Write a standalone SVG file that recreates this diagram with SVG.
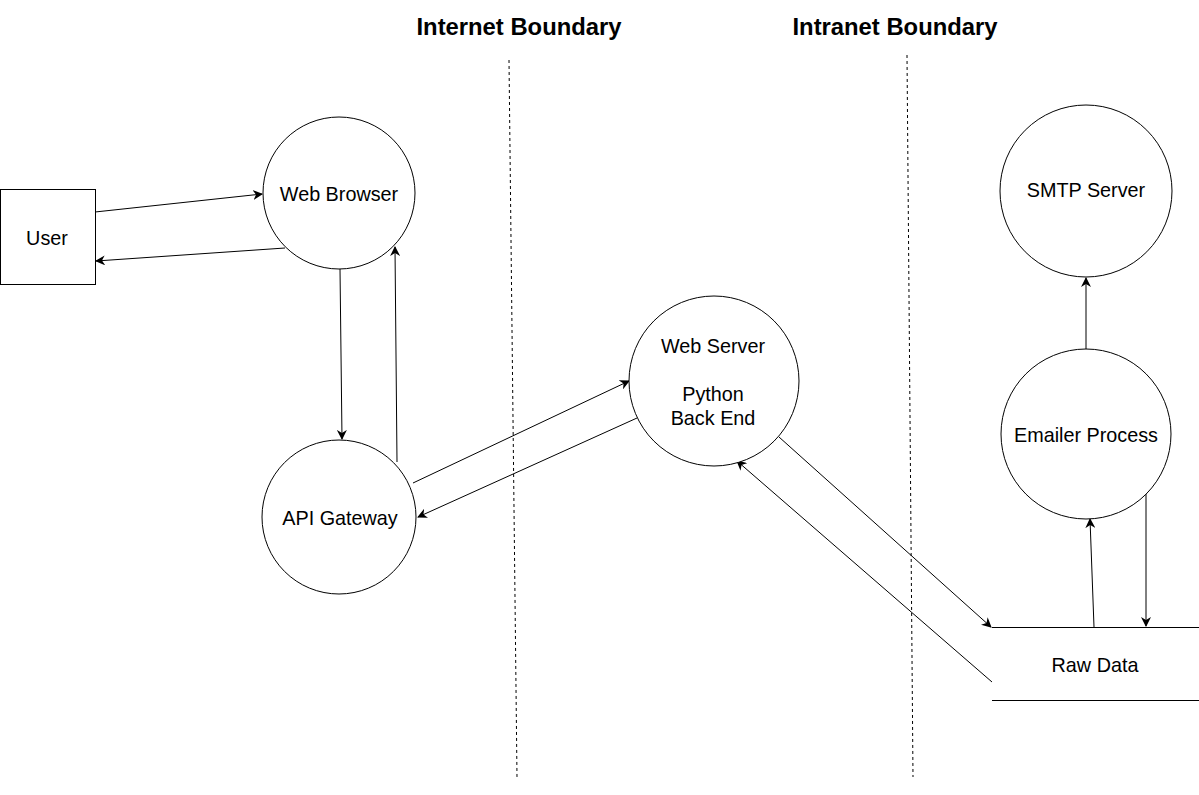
<svg xmlns="http://www.w3.org/2000/svg" width="1199" height="795" viewBox="0 0 1199 795">
<defs>
<marker id="arr" viewBox="0 0 10 10" refX="9" refY="5" markerWidth="10" markerHeight="10" markerUnits="userSpaceOnUse" orient="auto">
<path d="M0,0 L10,5 L0,10 L3,5 Z" fill="#000"/>
</marker>
</defs>
<style>
.shape{fill:#fff;stroke:#000;stroke-width:1}
.lbl{font-family:"Liberation Sans",Arial,sans-serif;font-size:19.8px;fill:#000;text-anchor:middle}
.title{font-family:"Liberation Sans",Arial,sans-serif;font-size:24px;font-weight:bold;fill:#000;text-anchor:middle}
.bound{stroke:#000;stroke-width:1;stroke-dasharray:3,3;fill:none}
.conn{stroke:#000;stroke-width:1;fill:none;marker-end:url(#arr)}
</style>
<rect width="1199" height="795" fill="#fff"/>
<g id="boundaries">
<line class="bound" x1="509" y1="60" x2="517" y2="777"/>
<line class="bound" x1="907" y1="55" x2="913" y2="777"/>
<text class="title" x="519" y="35" textLength="205" lengthAdjust="spacingAndGlyphs">Internet Boundary</text>
<text class="title" x="895" y="35" textLength="205" lengthAdjust="spacingAndGlyphs">Intranet Boundary</text>
</g>
<g id="connectors">
<line class="conn" x1="95" y1="212" x2="262" y2="194"/>
<line class="conn" x1="285" y1="248" x2="96" y2="261"/>
<line class="conn" x1="340" y1="269" x2="342" y2="439"/>
<line class="conn" x1="397" y1="462" x2="395" y2="247"/>
<line class="conn" x1="413" y1="483" x2="629" y2="381"/>
<line class="conn" x1="637" y1="418" x2="418" y2="517"/>
<line class="conn" x1="779" y1="437" x2="991" y2="627"/>
<line class="conn" x1="992" y1="682" x2="737" y2="461"/>
<line class="conn" x1="1094" y1="627" x2="1090" y2="519"/>
<line class="conn" x1="1146" y1="493" x2="1146" y2="626"/>
<line class="conn" x1="1086" y1="349" x2="1086" y2="278"/>
</g>
<g id="user">
<rect class="shape" x="0.5" y="189.5" width="95" height="95"/>
<text class="lbl" x="47" y="245">User</text>
</g>
<g id="web-browser">
<circle class="shape" cx="339" cy="193" r="76"/>
<text class="lbl" x="339" y="201">Web Browser</text>
</g>
<g id="api-gateway">
<circle class="shape" cx="339" cy="517" r="77"/>
<text class="lbl" x="340" y="525">API Gateway</text>
</g>
<g id="web-server">
<circle class="shape" cx="714" cy="381" r="85"/>
<text class="lbl" x="713" y="353">Web Server</text>
<text class="lbl" x="713" y="401">Python</text>
<text class="lbl" x="713" y="425">Back End</text>
</g>
<g id="smtp-server">
<circle class="shape" cx="1086" cy="191" r="86"/>
<text class="lbl" x="1086" y="197">SMTP Server</text>
</g>
<g id="emailer-process">
<circle class="shape" cx="1086" cy="434" r="85"/>
<text class="lbl" x="1086" y="442">Emailer Process</text>
</g>
<g id="raw-data">
<line stroke="#000" stroke-width="1" x1="992" y1="627.5" x2="1199" y2="627.5"/>
<line stroke="#000" stroke-width="1" x1="992" y1="700.5" x2="1199" y2="700.5"/>
<text class="lbl" x="1095" y="672">Raw Data</text>
</g>
</svg>
